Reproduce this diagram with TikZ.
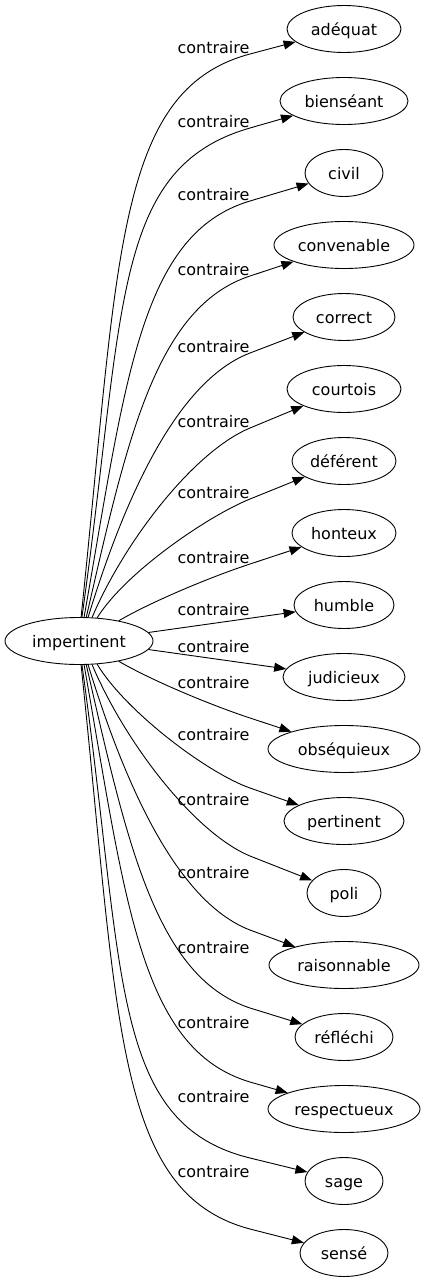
\documentclass[tikz,border=0pt]{standalone}
\usepackage{fontspec}
\setmainfont{DejaVu Sans}
\usetikzlibrary{arrows.meta,shapes.geometric}
\begin{document}
\begin{tikzpicture}[x=1pt,y=-1pt,
  every node/.style={font=\fontsize{16}{19}\selectfont},
  nd/.style={draw, ellipse, line width=0.9pt, inner sep=0pt, minimum height=47pt, text height=15pt, text depth=2pt},
  lbl/.style={anchor=base, inner sep=0pt},
  conn/.style={line width=0.9pt, -{Triangle[length=12pt,width=9pt]}}]
\useasboundingbox (0,0) rectangle (426,1283);
% nodes
\node[nd, minimum width=148pt] (imp) at (79,641) {impertinent};
\node[nd, minimum width=114pt] (adequat) at (344,29) {adéquat};
\node[nd, minimum width=128pt] (bienseant) at (344,101) {bienséant};
\node[nd, minimum width=78pt] (civil) at (344,173) {civil};
\node[nd, minimum width=140pt] (convenable) at (344,245) {convenable};
\node[nd, minimum width=102pt] (correct) at (344,317) {correct};
\node[nd, minimum width=114pt] (courtois) at (344,389) {courtois};
\node[nd, minimum width=104pt] (deferent) at (344,461) {déférent};
\node[nd, minimum width=104pt] (honteux) at (344,533) {honteux};
\node[nd, minimum width=100pt] (humble) at (344,605) {humble};
\node[nd, minimum width=122pt] (judicieux) at (344,677) {judicieux};
\node[nd, minimum width=152pt] (obsequieux) at (344,749) {obséquieux};
\node[nd, minimum width=120pt] (pertinent) at (344,821) {pertinent};
\node[nd, minimum width=74pt] (poli) at (344,893) {poli};
\node[nd, minimum width=150pt] (raisonnable) at (344,965) {raisonnable};
\node[nd, minimum width=98pt] (reflechi) at (344,1037) {réfléchi};
\node[nd, minimum width=152pt] (respectueux) at (344,1109) {respectueux};
\node[nd, minimum width=78pt] (sage) at (344,1181) {sage};
\node[nd, minimum width=88pt] (sense) at (344,1253) {sensé};
% labels
\node[lbl] (l1) at (213.5,53) {contraire};
\node[lbl] (l2) at (213.5,127) {contraire};
\node[lbl] (l3) at (213.5,200) {contraire};
\node[lbl] (l4) at (213.5,275) {contraire};
\node[lbl] (l5) at (213.5,352) {contraire};
\node[lbl] (l6) at (213.5,427) {contraire};
\node[lbl] (l7) at (213.5,498) {contraire};
\node[lbl] (l8) at (213.5,563) {contraire};
\node[lbl] (l9) at (213.5,615) {contraire};
\node[lbl] (l10) at (213.5,652) {contraire};
\node[lbl] (l11) at (213.5,688) {contraire};
\node[lbl] (l12) at (213.5,740) {contraire};
\node[lbl] (l13) at (213.5,805) {contraire};
\node[lbl] (l14) at (213.5,878) {contraire};
\node[lbl] (l15) at (213.5,953) {contraire};
\node[lbl] (l16) at (213.5,1028) {contraire};
\node[lbl] (l17) at (213.5,1102) {contraire};
\node[lbl] (l18) at (213.5,1177) {contraire};
% pass points
\coordinate (m1) at (250,54);
\coordinate (m2) at (250,128);
\coordinate (m3) at (250,201);
\coordinate (m4) at (250,276);
\coordinate (m5) at (250,353);
\coordinate (m6) at (250,428);
\coordinate (m7) at (250,499);
\coordinate (m8) at (250,564);
\coordinate (m11) at (250,718);
\coordinate (m12) at (250,788);
\coordinate (m13) at (250,856);
\coordinate (m14) at (250,930);
\coordinate (m15) at (250,1008);
\coordinate (m16) at (250,1082);
\coordinate (m17) at (250,1158);
\coordinate (m18) at (250,1229);
% edges
\draw[conn] (imp.85) .. controls (118.6,259.5) and (114.8,90) .. (m1) -- (adequat);
\draw[conn] (imp.83) .. controls (125.1,310.6) and (110.7,168) .. (m2) -- (bienseant);
\draw[conn] (imp.78) .. controls (125.7,381.1) and (139.8,233.8) .. (m3) -- (civil);
\draw[conn] (imp.73) .. controls (126.5,442.2) and (155,307.3) .. (m4) -- (convenable);
\draw[conn] (imp.69) .. controls (123.1,502.9) and (175.3,381.6) .. (m5) -- (correct);
\draw[conn] (imp.61) .. controls (125.2,539.7) and (194.6,451) .. (m6) -- (courtois);
\draw[conn] (imp.52) .. controls (126.1,571.6) and (208.3,515.9) .. (m7) -- (deferent);
\draw[conn] (imp.27) .. controls (152.6,601) and (212,576.5) .. (m8) -- (honteux);
\draw[conn] (imp.7) -- (humble);
\draw[conn] (imp.-7) -- (judicieux);
\draw[conn] (imp.-27) .. controls (152.6,681) and (212,705.5) .. (m11) -- (obsequieux);
\draw[conn] (imp.-52) .. controls (126.1,712) and (207.6,773.1) .. (m12) -- (pertinent);
\draw[conn] (imp.-61) .. controls (125.2,743) and (194.6,833) .. (m13) -- (poli);
\draw[conn] (imp.-69) .. controls (123.1,779.1) and (175.3,901.4) .. (m14) -- (raisonnable);
\draw[conn] (imp.-73) .. controls (126.5,839.8) and (155,976.7) .. (m15) -- (reflechi);
\draw[conn] (imp.-78) .. controls (125.7,900.9) and (139.8,1049.2) .. (m16) -- (respectueux);
\draw[conn] (imp.-83) .. controls (125.1,971.4) and (109.2,1123.5) .. (m17) -- (sage);
\draw[conn] (imp.-85) .. controls (118.6,1022.5) and (114.8,1193) .. (m18) -- (sense);
\end{tikzpicture}
\end{document}
